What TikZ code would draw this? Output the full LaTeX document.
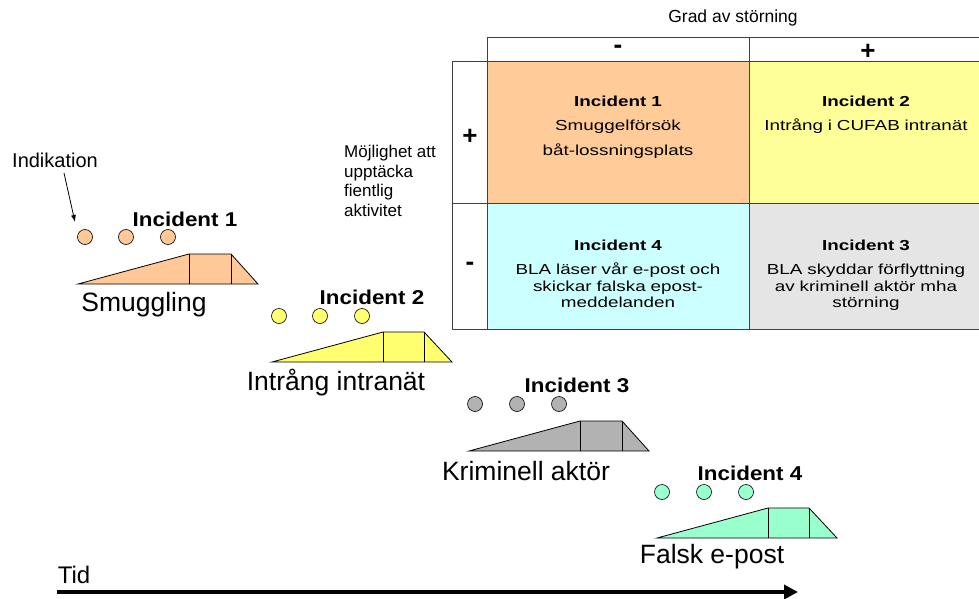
\documentclass[tikz,border=0pt]{standalone}
\usepackage{fontspec}
\setmainfont{Liberation Sans}
\newfontfamily\cellfont[FakeStretch=1.3]{Liberation Sans}
\newfontfamily\labfont[FakeStretch=1.12]{Liberation Sans}
\usetikzlibrary{arrows.meta}
\definecolor{cOrange}{HTML}{FFCC99}
\definecolor{cYellow}{HTML}{FFFF99}
\definecolor{cCyan}{HTML}{CCFFFF}
\definecolor{cGrey}{HTML}{E5E5E5}
\definecolor{sOrange}{HTML}{FFC896}
\definecolor{sYellow}{HTML}{FFFF70}
\definecolor{sGrey}{HTML}{B2B2B2}
\definecolor{sMint}{HTML}{99FFCC}
\definecolor{gridc}{HTML}{404040}
\begin{document}
\begin{tikzpicture}[x=1pt,y=-1pt,
  cell/.style={draw=gridc,line width=0.8pt,anchor=north west,inner sep=0pt},
  celltext/.style={font=\cellfont\fontsize{14.5}{24.5}\selectfont,align=center,text width=240pt},
  dot/.style={circle,draw=black,line width=0.6pt,minimum width=14pt,minimum height=15pt,inner sep=0pt},
  ramp/.style={draw=black,line width=0.8pt},
  inclab/.style={font=\labfont\bfseries\fontsize{20}{24}\selectfont},
  namelab/.style={font=\fontsize{26.5}{30}\selectfont},
  sign/.style={font=\bfseries\fontsize{26}{30}\selectfont}
]
\useasboundingbox (0,0) rectangle (979,599);

% ---- table ----
\draw[gridc,line width=0.8pt] (487,61) -- (487,37) -- (979,37);
\draw[gridc,line width=0.8pt] (749,37) -- (749,61);
\node[sign] (hminus) at (618,49) {-};
\node[sign] (hplus) at (868,52) {+};
\node[font=\fontsize{17.5}{20}\selectfont] (grad) at (733,18) {Grad av störning};

\node[cell,minimum width=35pt,minimum height=142pt] (lplus) at (452,61) {};
\node[cell,minimum width=35pt,minimum height=126pt] (lminus) at (452,203) {};
\node[cell,fill=cOrange,minimum width=262pt,minimum height=142pt] (c1) at (487,61) {};
\node[cell,fill=cYellow,minimum width=240pt,minimum height=142pt] (c2) at (749,61) {};
\node[cell,fill=cCyan,minimum width=262pt,minimum height=126pt] (c4) at (487,203) {};
\node[cell,fill=cGrey,minimum width=240pt,minimum height=126pt] (c3) at (749,203) {};

\node[sign] (splus) at (470,137) {+};
\node[sign] (sminus) at (470,266) {-};

\node[celltext,anchor=north] (t1) at (618,92) {\textbf{Incident 1}\\Smuggelförsök\\båt-lossningsplats};
\node[celltext,anchor=north] (t2) at (866,92) {\textbf{Incident 2}\\Intrång i CUFAB intranät};
\node[celltext,anchor=north,font=\cellfont\fontsize{14.5}{16.5}\selectfont] (t4) at (618,236) {\textbf{Incident 4}\\[8pt]BLA läser vår e-post och\\skickar falska epost-\\meddelanden};
\node[celltext,anchor=north,font=\cellfont\fontsize{14.5}{16.5}\selectfont] (t3) at (866,236) {\textbf{Incident 3}\\[8pt]BLA skyddar förflyttning\\av kriminell aktör mha\\störning};

\node[font=\fontsize{17}{19.5}\selectfont,align=left,anchor=north west,inner sep=0pt] (mojl) at (344,145) {Möjlighet att\\upptäcka\\fientlig\\aktivitet};

% ---- Incident 1 ----
\draw[ramp,fill=sOrange] (78,284) -- (189,254) -- (231,254) -- (258,284) -- cycle;
\draw[ramp] (189,254) -- (189,284) (231,254) -- (231,284);
\node[dot,fill=sOrange] (a1) at (85,237) {};
\node[dot,fill=sOrange] (a2) at (126,237) {};
\node[dot,fill=sOrange] (a3) at (168,237) {};
\node[inclab] (i1) at (185,219) {Incident 1};
\node[namelab] (n1) at (144,305) {Smuggling};

% ---- Incident 2 ----
\draw[ramp,fill=sYellow] (272,362) -- (383,332) -- (424,332) -- (452,362) -- cycle;
\draw[ramp] (383,332) -- (383,362) (424,332) -- (424,362);
\node[dot,fill=sYellow] (b1) at (279,316) {};
\node[dot,fill=sYellow] (b2) at (320,316) {};
\node[dot,fill=sYellow] (b3) at (362,316) {};
\node[inclab] (i2) at (372,297) {Incident 2};
\node[namelab] (n2) at (336,383) {Intrång intranät};

% ---- Incident 3 ----
\draw[ramp,fill=sGrey] (469,451) -- (580,421) -- (622,421) -- (649,451) -- cycle;
\draw[ramp] (580,421) -- (580,451) (622,421) -- (622,451);
\node[dot,fill=sGrey] (d1) at (475,404) {};
\node[dot,fill=sGrey] (d2) at (517,404) {};
\node[dot,fill=sGrey] (d3) at (559,404) {};
\node[inclab] (i3) at (577,385) {Incident 3};
\node[namelab] (n3) at (526,471) {Kriminell aktör};

% ---- Incident 4 ----
\draw[ramp,fill=sMint] (657,538) -- (768,508) -- (809,508) -- (837,538) -- cycle;
\draw[ramp] (768,508) -- (768,538) (809,508) -- (809,538);
\node[dot,fill=sMint] (e1) at (662,492) {};
\node[dot,fill=sMint] (e2) at (704,492) {};
\node[dot,fill=sMint] (e3) at (746,492) {};
\node[inclab] (i4) at (750,473) {Incident 4};
\node[namelab] (n4) at (712,557) {Falsk e-post};

% ---- Indikation ----
\node[font=\fontsize{20}{22}\selectfont] (ind) at (55,160) {Indikation};
\coordinate (indtip) at (75,222);
\draw[line width=0.8pt,-{Latex[length=7pt,width=5pt]}] (64,173) -- (indtip);

% ---- Tid ----
\node[font=\fontsize{24}{28}\selectfont] (tid) at (74,575) {Tid};
\coordinate (tstart) at (57,592);
\coordinate (tend) at (798,592);
\draw[line width=4.5pt,-{Triangle[length=14pt,width=14pt]}] (tstart) -- (tend);
\end{tikzpicture}
\end{document}
